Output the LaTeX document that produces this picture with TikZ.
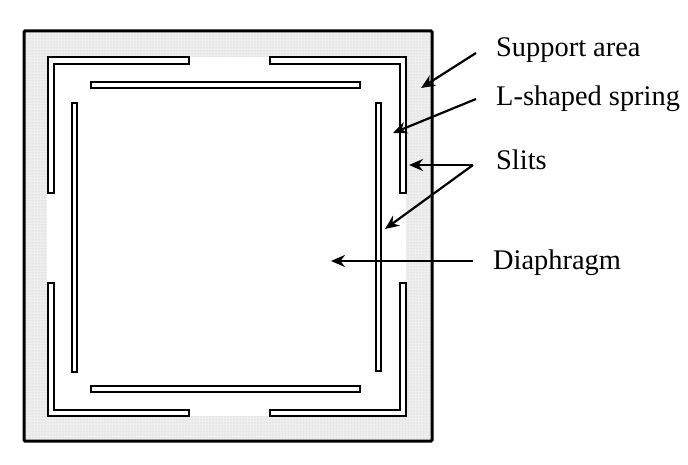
\documentclass[tikz,border=0pt]{standalone}
\usepackage{fontspec}
\setmainfont{Liberation Serif}
\usetikzlibrary{arrows.meta}
\usetikzlibrary{patterns}
\definecolor{supportgray}{HTML}{EEEEEE}
\tikzset{
    slit/.style={draw, line width=2pt, fill=white},
    callout/.style={anchor=west, inner xsep=20pt, inner ysep=0pt, text depth=6pt, font=\fontsize{28.4}{28.4}\selectfont},
    pointer/.style={-{Stealth[length=14pt, width=12pt]}, line width=2.2pt},
}

\begin{document}
\begin{tikzpicture}[x=1pt, y=-1pt]
        \useasboundingbox (0, 0) rectangle (688, 465);

        \fill[supportgray] (24, 31) rectangle (432, 441);
        \fill[pattern=dots, pattern color=gray!45] (24, 31) rectangle (432, 441);
        \fill[white] (47, 57) rectangle (406, 416);
        \draw[line width=3pt, rounded corners=1pt] (24, 31) rectangle (432, 441);

        % L-shaped slits
        \draw[slit] (48, 193) -- (48, 57) -- (189, 57) -- (189, 64) -- (54, 64) -- (54, 193) -- cycle;
        \draw[slit] (406, 193) -- (406, 57) -- (270, 57) -- (270, 64) -- (400, 64) -- (400, 193) -- cycle;
        \draw[slit] (48, 283) -- (48, 416) -- (189, 416) -- (189, 410) -- (54, 410) -- (54, 283) -- cycle;
        \draw[slit] (406, 283) -- (406, 416) -- (270, 416) -- (270, 410) -- (400, 410) -- (400, 283) -- cycle;

        % straight slits
        \draw[slit] (91, 82) rectangle (360, 88);
        \draw[slit] (91, 386) rectangle (360, 392);
        \draw[slit] (72, 103) rectangle (77, 372);
        \draw[slit] (376, 103) rectangle (381, 371);

        \node[callout, text height=13pt] (Support) at (476, 53) {Support area};
        \node[callout, text height=19pt] (Spring) at (476, 99) {L-shaped spring};
        \node[callout, text height=16pt, inner xsep=23pt] (Slits) at (473, 165) {Slits};
        \node[callout, text height=23pt] (Diaphragm) at (473, 261) {Diaphragm};

        \coordinate (SupportTip) at (421, 88);
        \coordinate (SpringTip) at (393, 133);
        \coordinate (SlitOuterTip) at (409, 165);
        \coordinate (SlitInnerTip) at (385, 229);
        \coordinate (DiaphragmTip) at (331, 261);

        \draw[pointer] (Support.west) -- (SupportTip);
        \draw[pointer] (Spring.west) -- (SpringTip);
        \draw[pointer] (Slits.west) -- (SlitOuterTip);
        \draw[pointer] (Slits.west) -- (SlitInnerTip);
        \draw[pointer] (Diaphragm.west) -- (DiaphragmTip);
    \end{tikzpicture}
\end{document}
